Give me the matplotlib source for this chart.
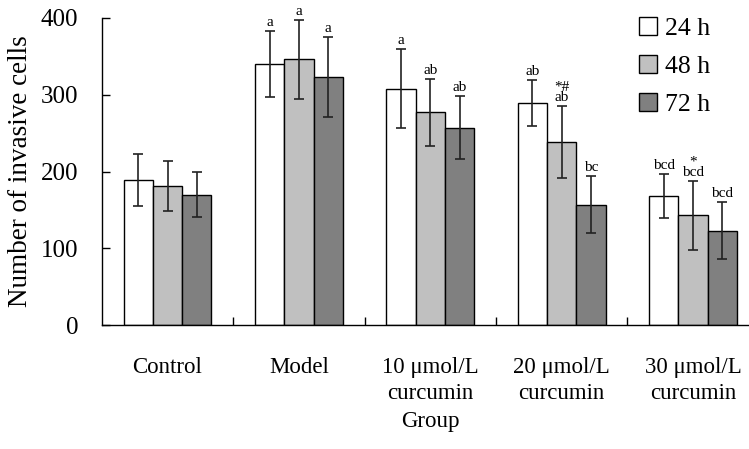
import matplotlib
matplotlib.use("Agg")
import matplotlib.pyplot as plt
import numpy as np

plt.rcParams['font.family'] = ['Liberation Serif', 'DejaVu Serif']

groups = ["Control", "Model", "10 μmol/L\ncurcumin", "20 μmol/L\ncurcumin", "30 μmol/L\ncurcumin"]
series = ["24 h", "48 h", "72 h"]
mean_24 = [189, 340, 308, 289, 168]
mean_48 = [181, 346, 277, 238, 143]
mean_72 = [170, 323, 257, 157, 123]
sd_24 = [34, 43, 51, 30, 29]
sd_48 = [33, 51, 44, 47, 45]
sd_72 = [29, 52, 41, 37, 37]
labels_24 = ["", "a", "a", "ab", "bcd"]
labels_48 = ["", "a", "ab", "*#\nab", "*\nbcd"]
labels_72 = ["", "a", "ab", "bc", "bcd"]

means = [mean_24, mean_48, mean_72]
sds = [sd_24, sd_48, sd_72]
labs = [labels_24, labels_48, labels_72]
colors = ["#ffffff", "#c0c0c0", "#808080"]

fig = plt.figure(figsize=(7.49, 4.49), dpi=100)
ax = fig.add_axes([0.136, 0.276, 0.877, 0.684])

x = np.arange(len(groups))
w = 0.223
handles = []
for i in range(3):
    xs = x + (i - 1) * w
    b = ax.bar(xs, means[i], width=w, color=colors[i], edgecolor="black", linewidth=1.0,
               yerr=sds[i], capsize=3.5, error_kw=dict(elinewidth=1.2, capthick=1.2, ecolor="#222222"),
               label=series[i], zorder=2)
    handles.append(b)
    for j in range(len(groups)):
        if labs[i][j]:
            ax.annotate(labs[i][j], (xs[j], means[i][j] + sds[i][j]), xytext=(0, 1.5),
                        textcoords="offset points", ha="center", va="bottom",
                        fontsize=11, linespacing=0.75)

ax.set_xlim(-0.5, 4.5)
ax.set_ylim(0, 400)
ax.set_yticks([0, 100, 200, 300, 400])
ax.tick_params(axis="y", direction="in", length=6, width=1, labelsize=18, pad=17)
ax.set_xticks(x)
ax.set_xticklabels(groups, fontsize=16.5, linespacing=1.3, va="top")
ax.set_xticks([0.5, 1.5, 2.5, 3.5], minor=True)
ax.tick_params(axis="x", which="major", length=0, pad=23)
ax.tick_params(axis="x", which="minor", direction="in", length=6, width=1)
for s in ["top", "right"]:
    ax.spines[s].set_visible(False)
ax.spines["left"].set_linewidth(1.0)
ax.spines["bottom"].set_linewidth(1.0)

ax.set_ylabel("Number of invasive cells", fontsize=19.5)
ax.yaxis.set_label_coords(-0.105, 0.5)
ax.set_xlabel("Group", fontsize=16.5)
ax.xaxis.set_label_coords(0.5, -0.28)

ax.legend(handles=handles, loc="upper left", bbox_to_anchor=(0.853, 0.962),
          bbox_transform=fig.transFigure, frameon=False, fontsize=18.5,
          handlelength=0.7, handleheight=0.7, handletextpad=0.3, labelspacing=0.58,
          borderpad=0, borderaxespad=0)

fig.savefig("out.png", dpi=100)
